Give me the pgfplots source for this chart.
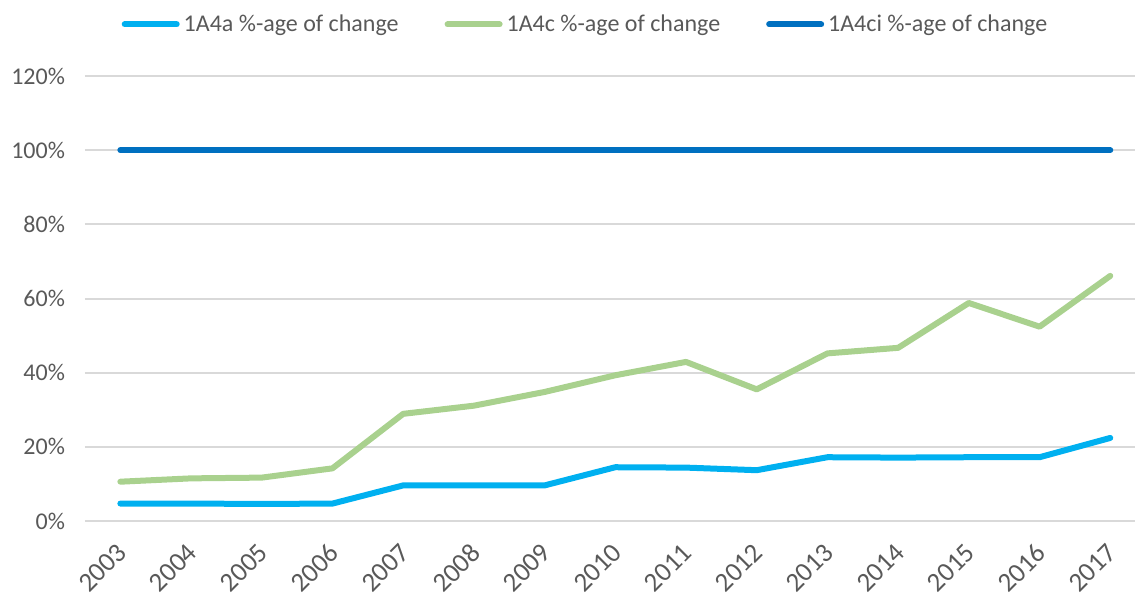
\documentclass[border=0pt]{standalone}
\usepackage{pgfplots}
\pgfplotsset{compat=1.18}
\usepackage{fontspec}
\setmainfont{Carlito}
\definecolor{cA}{RGB}{0,176,240}
\definecolor{cC}{RGB}{169,209,142}
\definecolor{cCI}{RGB}{0,112,192}
\definecolor{txt}{RGB}{89,89,89}
\definecolor{grd}{RGB}{217,217,217}
\begin{document}
\begin{tikzpicture}
\useasboundingbox (0,0) rectangle (567.5pt,298pt);
\begin{axis}[
  at={(42.5pt,37.5pt)}, anchor=south west,
  scale only axis, width=525pt, height=222.5pt,
  xmin=-0.5, xmax=14.35, ymin=0, ymax=120,
  xtick={0,...,14},
  xticklabels={2003,2004,2005,2006,2007,2008,2009,2010,2011,2012,2013,2014,2015,2016,2017},
  ytick={0,20,...,120},
  yticklabel={\pgfmathprintnumber{\tick}\%},
  /pgf/number format/assume math mode=true,
  ymajorgrids, grid style={grd, line width=1pt},
  axis line style={draw=none},
  major tick length=0pt,
  tick label style={font=\fontsize{12}{14}\selectfont, text=txt},
  xticklabel style={font=\fontsize{13.5}{15}\selectfont, rotate=45, anchor=north east, inner sep=1pt, yshift=-4.6pt, xshift=-8.0pt},
  yticklabel style={xshift=-6.5pt},
  legend style={at={(0.4776,1.116)}, anchor=center, draw=none, fill=none,
    legend columns=3, font=\fontsize{12}{14}\selectfont, text=txt,
    /tikz/every even column/.append style={column sep=21pt},
    inner sep=0pt},
  legend image code/.code={\draw[#1, line cap=round] (0pt,0pt) -- (26pt,0pt);},
  every axis plot/.append style={line width=3pt, line join=round, line cap=round},
]
\addplot[cA] coordinates {(0,4.7)(1,4.7)(2,4.6)(3,4.7)(4,9.6)(5,9.6)(6,9.6)(7,14.5)(8,14.4)(9,13.7)(10,17.2)(11,17.1)(12,17.2)(13,17.2)(14,22.4)};
\addlegendentry{1A4a \%-age of change}
\addplot[cC] coordinates {(0,10.6)(1,11.5)(2,11.7)(3,14.2)(4,28.9)(5,31.1)(6,34.8)(7,39.3)(8,42.9)(9,35.5)(10,45.2)(11,46.7)(12,58.8)(13,52.4)(14,66.1)};
\addlegendentry{1A4c \%-age of change}
\addplot[cCI] coordinates {(0,100)(1,100)(2,100)(3,100)(4,100)(5,100)(6,100)(7,100)(8,100)(9,100)(10,100)(11,100)(12,100)(13,100)(14,100)};
\addlegendentry{1A4ci \%-age of change}
\end{axis}
\end{tikzpicture}
\end{document}
